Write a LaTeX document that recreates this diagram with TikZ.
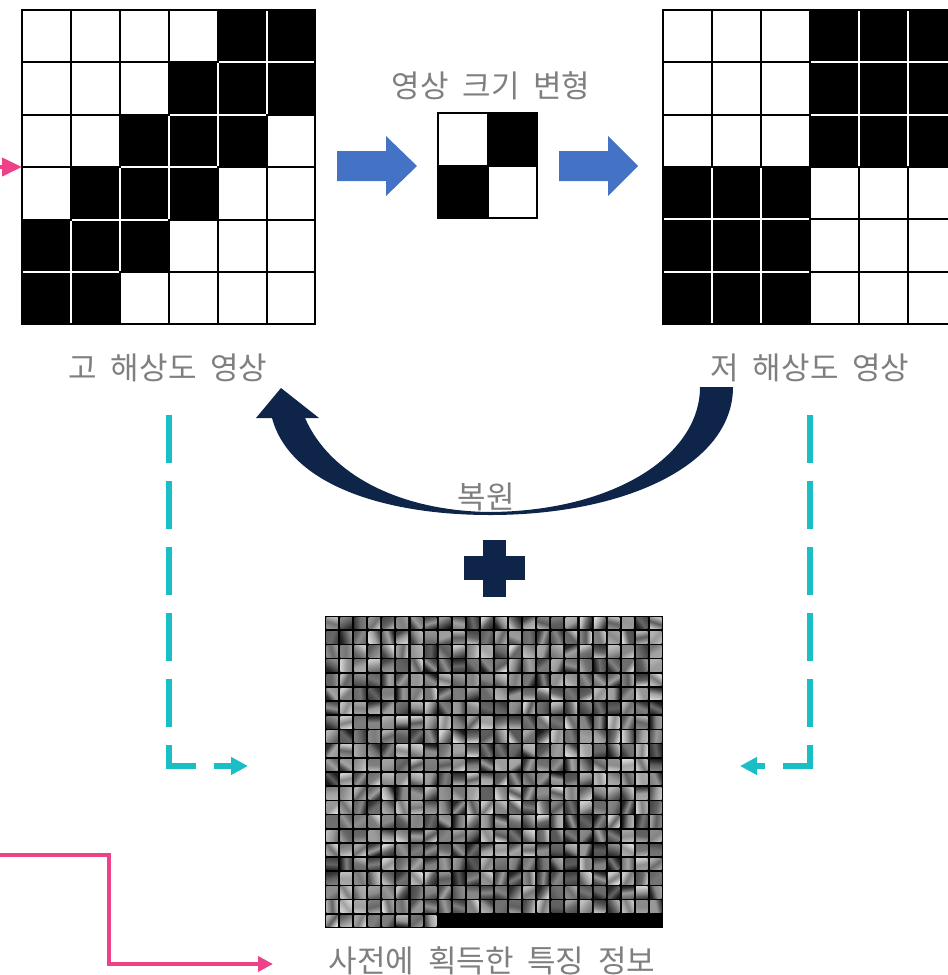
\documentclass[tikz,border=0pt]{standalone}
\usepackage{fontspec}
\usepackage{tikz}
\usetikzlibrary{arrows.meta}
\newfontfamily\kor[WordSpace=2]{Noto Sans CJK KR}

\definecolor{captiongray}{HTML}{7F7F7F}
\definecolor{stepblue}{HTML}{4472C4}
\definecolor{restorenavy}{HTML}{0E2449}
\definecolor{dictteal}{HTML}{1ABEC6}
\definecolor{linkpink}{HTML}{EE4288}

\tikzset{
  caption/.style={text=captiongray, font=\kor\fontsize{31}{37}\selectfont, inner sep=0pt},
  blackcell/.style={fill=black, draw=white, line width=2pt},
  whitecell/.style={fill=white, draw=black, line width=2pt},
  dictlink/.style={draw=dictteal, line width=5.5pt, dash pattern=on 48pt off 18pt, -{Triangle[length=17pt,width=17pt]}},
  inputlink/.style={draw=linkpink, line width=4pt, -{Triangle[length=15pt,width=15pt]}}
}

\begin{document}
\begin{tikzpicture}[x=1pt,y=-1pt]
  % hatarok
  \useasboundingbox (0,0) rectangle (948,975);
  \clip (0,0) rectangle (948,975);

  % gohaesangdo yeongsang (6x6)
  \begin{scope}[shift={(22,10)}]
    \foreach \r in {0,...,5}
      \foreach \c in {0,...,5}{
        \pgfmathtruncatemacro\b{and(\r+\c>3,\r+\c<7)}
        \ifnum\b=1 \filldraw[blackcell] ({\c*48.9},{\r*52.4}) rectangle ++(48.9,52.4); \fi
      }
    \foreach \r in {0,...,5}
      \foreach \c in {0,...,5}{
        \pgfmathtruncatemacro\b{and(\r+\c>3,\r+\c<7)}
        \ifnum\b=0 \filldraw[whitecell] ({\c*48.9},{\r*52.4}) rectangle ++(48.9,52.4); \fi
      }
    \draw[line width=2pt] (0,0) rectangle (293.4,314.4);
  \end{scope}

  % jeohaesangdo yeongsang
  \begin{scope}[shift={(663,10)}]
    \foreach \r in {0,...,5}
      \foreach \c in {0,...,5}{
        \pgfmathtruncatemacro\b{((\r<3)+(\c<3))==1}
        \ifnum\b=1 \filldraw[blackcell] ({\c*48.9},{\r*52.3}) rectangle ++(48.9,52.3); \fi
      }
    \foreach \r in {0,...,5}
      \foreach \c in {0,...,5}{
        \pgfmathtruncatemacro\b{((\r<3)+(\c<3))==1}
        \ifnum\b=0 \filldraw[whitecell] ({\c*48.9},{\r*52.3}) rectangle ++(48.9,52.3); \fi
      }
    \draw[line width=2pt] (0,0) rectangle (293.4,313.8);
  \end{scope}

  % kkeugi byeonhyeong (2x2)
  \begin{scope}[shift={(438,113)}]
    \fill (49.5,0) rectangle (99,52.5);
    \fill (0,52.5) rectangle (49.5,105);
    \draw[line width=2pt] (0,0) rectangle (99,105);
    \draw[line width=2pt] (49.5,0) -- (49.5,105) (0,52.5) -- (99,52.5);
  \end{scope}

  % paran hwasalpyo
  \fill[stepblue] (337,151) -- (386,151) -- (386,136) -- (417,166) -- (386,196) -- (386,181) -- (337,181) -- cycle;
  \fill[stepblue] (559,151) -- (608,151) -- (608,136) -- (638,166) -- (608,196) -- (608,181) -- (559,181) -- cycle;

  % feliratok
  \node[caption] (resizelabel) at (491,86) {영상 크기 변형};
  \node[caption] (hrlabel) at (168,368) {고 해상도 영상};
  \node[caption] (lrlabel) at (810,368) {저 해상도 영상};

  % bokwon hwasalpyo
  \fill[restorenavy] (733,387) .. controls (733,465) and (625,515) .. (490,515)
    .. controls (385,515) and (290,485) .. (272,418)
    -- (256,418) -- (281,388) -- (319,418) -- (305,418)
    .. controls (330,475) and (400,511) .. (490,512)
    .. controls (615,511) and (700,455) .. (700,387) -- cycle;
  \node[caption] (restorelabel) at (486,497) {복원};

  % plus
  \fill[restorenavy] (483,540) rectangle (506,597);
  \fill[restorenavy] (464,556) rectangle (525,580);

  % sajeon (24x22 patches)
  \coordinate (dict) at (325,616);
  \fill (dict) rectangle ++(338,312);
  \pgfmathsetseed{17}
  \begin{scope}[shift={(325,616)}]
    \foreach \k in {0,...,511}{
      \pgfmathtruncatemacro\c{mod(\k,24)}
      \pgfmathtruncatemacro\r{floor(\k/24)}
      \pgfmathtruncatemacro\ga{10+75*rnd}
      \pgfmathtruncatemacro\gb{35+30*rnd}
      \pgfmathtruncatemacro\gc{10+75*rnd}
      \pgfmathtruncatemacro\ang{360*rnd}
      \shade[left color=white!\ga!black, right color=white!\gc!black, middle color=white!\gb!black, shading angle=\ang]
        ({\c*14.083+1.3},{\r*14.18+1.3}) rectangle ++(11.5,11.6);
    }
  \end{scope}
  \node[caption] (dictlabel) at (492,961) {사전에 획득한 특징 정보};

  % chuldae yeongyeol
  \coordinate (hrdown) at (169,415);
  \coordinate (dictleft) at (248,766);
  \coordinate (lrdown) at (810,415);
  \coordinate (dictright) at (740,766);
  \draw[dictlink] (hrdown) |- (dictleft);
  \draw[dictlink] (lrdown) |- (dictright);

  % ipryeok
  \coordinate (inleft) at (-30,167);
  \coordinate (hrin) at (22,167);
  \draw[inputlink, -{Triangle[length=20pt,width=18pt]}] (inleft) -- (hrin);
  \coordinate (featin) at (-10,855);
  \coordinate (featbend) at (109,964);
  \coordinate (feattip) at (273,964);
  \draw[inputlink] (featin) -| (featbend) -- (feattip);
\end{tikzpicture}
\end{document}
